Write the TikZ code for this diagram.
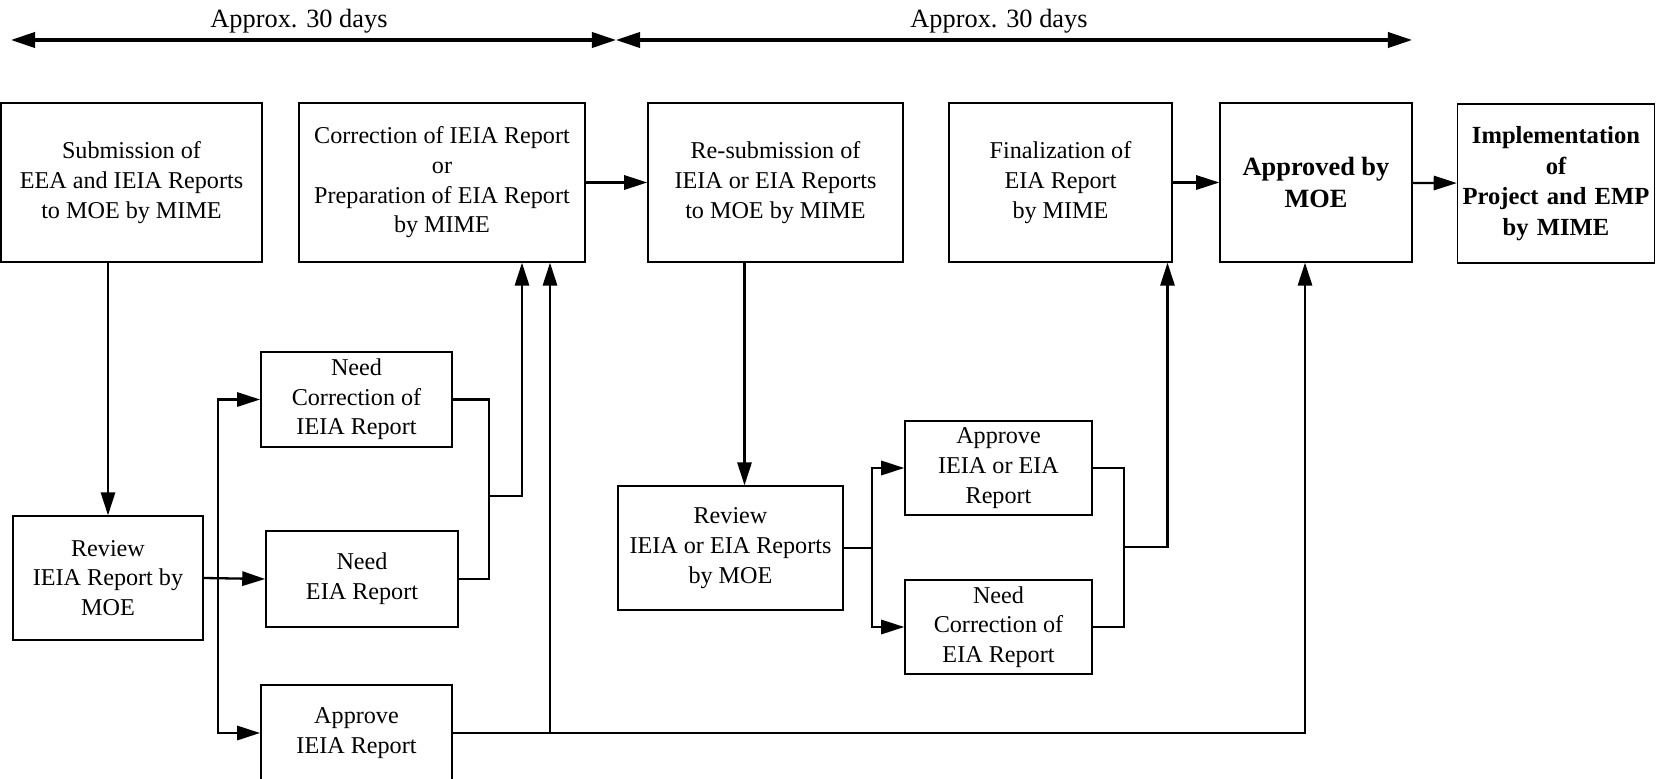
\documentclass[tikz,border=0pt]{standalone}
\usepackage{fontspec}
\setmainfont{Liberation Serif}
\usetikzlibrary{positioning,arrows.meta,calc}

\begin{document}
\begin{tikzpicture}[
    x=0.016cm,y=-0.016cm,
    font=\fontsize{11}{13.5}\selectfont,
    box/.style={draw,line width=0.75pt,align=center,inner sep=1pt},
    topbox/.style={box,minimum height=2.54cm},
    smallbox/.style={box,minimum width=3.06cm,minimum height=1.53cm},
    arr/.style={-{Triangle[length=10.5pt,width=6.5pt]},line width=1.05pt},
    link/.style={line width=1.05pt},
    span/.style={{Triangle[length=11pt,width=7pt]}-{Triangle[length=11pt,width=7pt]},line width=1.4pt},
    lbl/.style={font=\fontsize{12}{14}\selectfont}
  ]
    \useasboundingbox (0,0) rectangle (1656,779);

    % time spans
    \coordinate (t0) at (11,40);
    \coordinate (tm) at (616,40);
    \coordinate (t1) at (1412,40);
    \draw[span] (t0) -- (tm);
    \draw[span] (tm) -- (t1);
    \node[lbl] (lab1) at (299,21) {Approx. 30 days};
    \node[lbl] (lab2) at (999,21) {Approx. 30 days};

    % main row
    \node[topbox,minimum width=4.18cm] (submit) at (131.5,182.5) {Submission of\\EEA and IEIA Reports\\to MOE by MIME};
    \node[topbox,minimum width=4.58cm] (correct) at (442,182.5) {Correction of IEIA Report\\or\\Preparation of EIA Report\\by MIME};
    \node[topbox,minimum width=4.08cm] (resubmit) at (775.5,182.5) {Re-submission of\\IEIA or EIA Reports\\to MOE by MIME};
    \node[topbox,minimum width=3.57cm] (final) at (1060.5,182.5) {Finalization of\\EIA Report\\by MIME};
    \node[topbox,minimum width=3.07cm,font=\bfseries\fontsize{12}{15}\selectfont] (approved) at (1316,182.5) {Approved by\\MOE};
    \node[topbox,minimum width=3.14cm,text width=3.08cm,font=\bfseries\fontsize{11.2}{14}\selectfont] (implement) at (1556,183.5) {Implementation\\of\\Project and EMP\\by MIME};

    % first review
    \node[box,minimum width=3.04cm,minimum height=1.98cm] (review1) at (108,578) {Review\\IEIA Report by\\MOE};
    \node[smallbox] (needcor1) at (356.5,399.5) {Need\\Correction of\\IEIA Report};
    \node[smallbox,minimum width=3.07cm] (needeia) at (362,579) {Need\\EIA Report};
    \node[smallbox] (approve1) at (356.5,733) {Approve\\IEIA Report};

    % second review
    \node[box,minimum width=3.6cm,minimum height=1.98cm] (review2) at (730.5,548) {Review\\IEIA or EIA Reports\\by MOE};
    \node[smallbox,minimum width=2.99cm,minimum height=1.5cm] (approve2) at (998.5,468) {Approve\\IEIA or EIA\\Report};
    \node[smallbox,minimum width=2.99cm,minimum height=1.5cm] (needcor2) at (998.5,627) {Need\\Correction of\\EIA Report};

    \draw[arr] (correct) -- (resubmit);
    \draw[arr] (final) -- (approved);
    \draw[arr] (approved) -- (implement);

    \draw[arr] (review1.north |- submit.south) -- (review1.north);
    \coordinate (br1) at (218,578);
    \draw[arr] (review1.east) -- (needeia.west);
    \draw[arr] (br1) |- (needcor1.west);
    \draw[arr] (br1) |- (approve1.west);

    \coordinate (col1) at (489,496);
    \draw[link] (needcor1.east) -| (col1);
    \draw[link] (needeia.east) -| (col1);
    \draw[arr] (col1) -| ($(correct.south)+(80,0)$);

    \coordinate (up1) at ($(correct.south)+(108,0)$);
    \draw[arr] (approve1.east) -| ($(approved.south)+(-11,0)$);
    \draw[arr] (up1 |- approve1.east) -- (up1);

    \coordinate (down3) at ($(resubmit.south)+(-31,0)$);
    \draw[arr] (down3) -- (down3 |- review2.north);
    \coordinate (br2) at (872,548);
    \draw[link] (review2.east) -- (br2);
    \draw[arr] (br2) |- (approve2.west);
    \draw[arr] (br2) |- (needcor2.west);

    \coordinate (col2) at (1124,547);
    \draw[link] (approve2.east) -| (col2);
    \draw[link] (needcor2.east) -| (col2);
    \draw[arr] (col2) -| ($(final.south)+(107,0)$);
\end{tikzpicture}
\end{document}
